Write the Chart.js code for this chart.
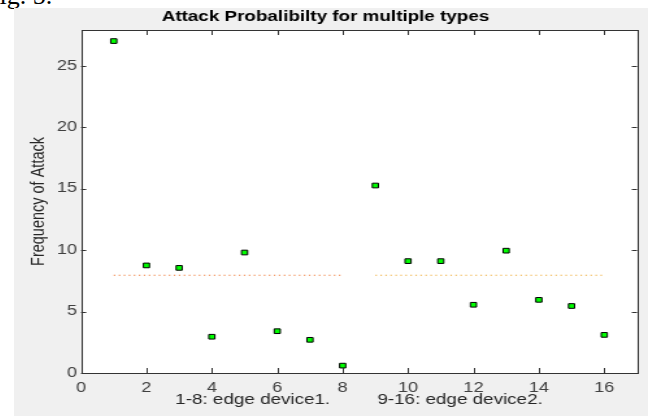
<!DOCTYPE html>
<html>
<head>
<meta charset="utf-8">
<script src="https://cdn.jsdelivr.net/npm/chart.js@4.4.1/dist/chart.umd.min.js"></script>
<style>
  html, body { margin: 0; padding: 0; background: #fff; overflow: hidden; }
  body { width: 654px; height: 416px; position: relative; }
  .figcap { position: absolute; left: -15px; top: -17px; font: 26px "Liberation Serif", "Times New Roman", serif; line-height: 1; color: #000; white-space: nowrap; }
  /* the reference figure is stretched sideways, so the chart is too */
  .wrap { position: absolute; left: 14px; top: 8px; width: 488px; height: 408px; transform: scaleX(1.2992); transform-origin: 0 0; }
</style>
</head>
<body>
<div class="figcap">Fig. 5.</div>
<div class="wrap"><canvas id="scatterChart" width="488" height="408"></canvas></div>
<script>
// device index on x, attack frequency on y
const devices = [1, 2, 3, 4, 5, 6, 7, 8, 9, 10, 11, 12, 13, 14, 15, 16]
const attackFreq = [27, 8.75, 8.55, 2.95, 9.8, 3.4, 2.7, 0.6, 15.25, 9.1, 9.1, 5.55, 9.95, 5.95, 5.45, 3.1]

// dotted level lines for each edge device
const device1Range = [1, 8]
const device1Level = [7.95, 7.95]
const device2Range = [9, 16]
const device2Level = [7.95, 7.95]

const xTicks = [0, 2, 4, 6, 8, 10, 12, 14, 16]
const yTicks = [0, 5, 10, 15, 20, 25]

const titleText = 'Attack Probalibilty for multiple types'
const xTitle = '1-8: edge device1.         9-16: edge device2.'
const yTitle = 'Frequency of Attack'

const points = devices.map((d, i) => ({x: d, y: attackFreq[i]}))
const line1 = device1Range.map((d, i) => ({x: d, y: device1Level[i]}))
const line2 = device2Range.map((d, i) => ({x: d, y: device2Level[i]}))

// gray figure background, white axes, box and inward ticks like matlab
const matlabAxes = {
    id: 'matlabAxes',
    beforeDraw(chart) {
        const {ctx, chartArea: a} = chart
        ctx.save()
        ctx.fillStyle = '#f0f0f0'
        ctx.fillRect(0, 0, chart.width, chart.height)
        ctx.fillStyle = '#ffffff'
        ctx.fillRect(a.left, a.top, a.right - a.left, a.bottom - a.top)
        ctx.restore()
    },
    afterDraw(chart) {
        const {ctx, chartArea: a, scales} = chart
        ctx.save()
        ctx.strokeStyle = '#333333'
        ctx.lineWidth = 1
        ctx.beginPath()
        xTicks.forEach(v => {
            const px = Math.round(scales.x.getPixelForValue(v)) + 0.5
            ctx.moveTo(px, a.bottom); ctx.lineTo(px, a.bottom - 5)
            ctx.moveTo(px, a.top); ctx.lineTo(px, a.top + 5)
        })
        yTicks.forEach(v => {
            const py = Math.round(scales.y.getPixelForValue(v)) + 0.5
            ctx.moveTo(a.left, py); ctx.lineTo(a.left + 4, py)
            ctx.moveTo(a.right, py); ctx.lineTo(a.right - 4, py)
        })
        ctx.stroke()
        ctx.strokeRect(Math.round(a.left) + 0.5, Math.round(a.top) + 0.5,
            Math.round(a.right - a.left), Math.round(a.bottom - a.top))
        ctx.restore()
    }
}

const fam = 'Liberation Sans, Arial, sans-serif'

const config = {
    type: 'scatter',
    data: {
        datasets: [
            {
                data: points,
                pointStyle: 'rect',
                pointRadius: 3.3,
                pointBackgroundColor: '#00ff00',
                pointBorderColor: '#000000',
                pointBorderWidth: 1,
                showLine: false,
                order: 0
            },
            {
                data: line1,
                showLine: true,
                borderColor: 'rgb(240, 125, 60)',
                borderWidth: 1,
                borderDash: [1.2, 2.65],
                pointRadius: 0,
                order: 1
            },
            {
                data: line2,
                showLine: true,
                borderColor: 'rgb(240, 175, 60)',
                borderWidth: 1,
                borderDash: [1.2, 2.65],
                pointRadius: 0,
                order: 1
            }
        ]
    },
    options: {
        responsive: false,
        animation: false,
        layout: {padding: {left: 0, right: 8.5, top: 0, bottom: 0}},
        plugins: {
            legend: {display: false},
            tooltip: {enabled: false},
            title: {
                display: true,
                text: titleText,
                color: '#000000',
                font: {family: fam, size: 14.5, weight: 'bold'},
                padding: {top: 0, bottom: 4.6}
            }
        },
        scales: {
            x: {
                type: 'linear',
                min: 0,
                max: 17,
                grid: {display: false, drawTicks: false},
                border: {display: false},
                afterBuildTicks: s => { s.ticks = xTicks.map(v => ({value: v})) },
                afterFit: s => { s.height = 43 },
                ticks: {color: '#404040', font: {family: fam, size: 14}, padding: 7, maxRotation: 0},
                title: {
                    display: true,
                    text: xTitle,
                    color: '#262626',
                    font: {family: fam, size: 14.5},
                    padding: {top: 0, bottom: 7.3}
                }
            },
            y: {
                type: 'linear',
                min: 0,
                max: 27.9,
                grid: {display: false, drawTicks: false},
                border: {display: false},
                afterBuildTicks: s => { s.ticks = yTicks.map(v => ({value: v})) },
                afterFit: s => { s.width = 51.6 },
                ticks: {color: '#404040', font: {family: fam, size: 14}, padding: 3},
                title: {
                    display: true,
                    text: yTitle,
                    color: '#262626',
                    font: {family: fam, size: 14.5},
                    padding: {top: 10, bottom: 0}
                }
            }
        }
    },
    plugins: [matlabAxes]
}

const chart = new Chart(document.getElementById('scatterChart'), config)
</script>
</body>
</html>
